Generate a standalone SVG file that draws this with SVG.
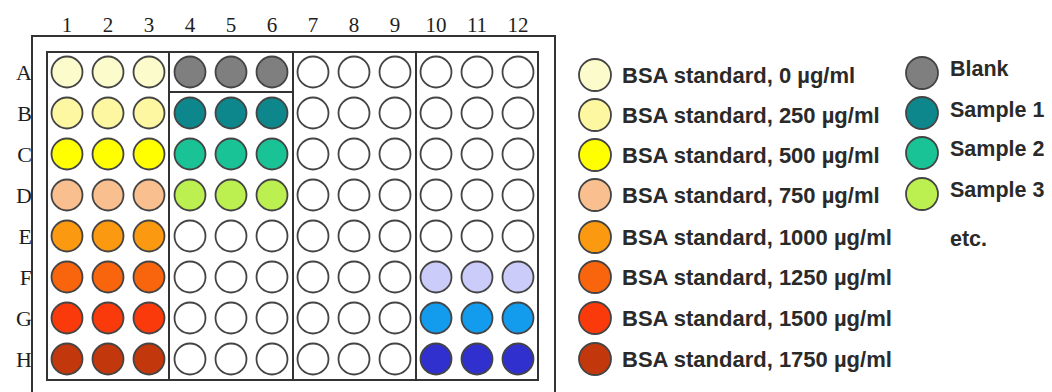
<svg xmlns="http://www.w3.org/2000/svg" width="1052" height="392" viewBox="0 0 1052 392">
<style>
.lbl{font-family:"Liberation Serif","Times New Roman",serif;font-size:21px;fill:#1e1e1e}
.rlbl{font-family:"Liberation Serif","Times New Roman",serif;font-size:22px;fill:#1e1e1e}
.leg{font-family:"Liberation Sans",Arial,sans-serif;font-weight:bold;font-size:22px;fill:#2a2a2a}
.leg2{font-family:"Liberation Sans",Arial,sans-serif;font-weight:bold;font-size:21.5px;fill:#2a2a2a}
.frame{fill:none;stroke:#333;stroke-width:2}
.w{stroke:#444;stroke-width:1.8}
.e{fill:#fff}
.s0{fill:#fbfbcc}
.s250{fill:#fcf7a0}
.s500{fill:#ffff00}
.s750{fill:#f9bf8f}
.s1000{fill:#fb9a10}
.s1250{fill:#f8650d}
.s1500{fill:#fb3a0c}
.s1750{fill:#c2380c}
.blank{fill:#7f7f7f}
.smp1{fill:#0d878c}
.smp2{fill:#19c396}
.smp3{fill:#bcf050}
.lav{fill:#ccccfa}
.sky{fill:#139bee}
.ind{fill:#3030cf}
</style>
<rect width="1052" height="392" fill="#fff"/>
<g id="plate">
<path class="frame" d="M32 400 V36 H555 V400"/>
<rect class="frame" x="47" y="52" width="491" height="328"/>
<path class="frame" d="M169 52 V380 M293 52 V380 M416 52 V380 M169 92 H293"/>
</g>
<g id="column-labels" class="lbl" text-anchor="middle">
<text x="67" y="32">1</text><text x="108" y="32">2</text><text x="149" y="32">3</text><text x="190" y="32">4</text><text x="231" y="32">5</text><text x="272" y="32">6</text><text x="313" y="32">7</text><text x="354" y="32">8</text><text x="395" y="32">9</text><text x="436" y="32">10</text><text x="477" y="32">11</text><text x="518" y="32">12</text>
</g>
<g id="row-labels" class="rlbl" text-anchor="end">
<text x="32" y="80">A</text><text x="32" y="121">B</text><text x="32" y="162">C</text><text x="32" y="203">D</text><text x="32" y="244">E</text><text x="32" y="285">F</text><text x="32" y="326">G</text><text x="32" y="367">H</text>
</g>
<g id="wells" class="w">
<g id="row-A"><circle class="s0" cx="67" cy="72" r="15.5"/><circle class="s0" cx="108" cy="72" r="15.5"/><circle class="s0" cx="149" cy="72" r="15.5"/><circle class="blank" cx="190" cy="72" r="15.5"/><circle class="blank" cx="231" cy="72" r="15.5"/><circle class="blank" cx="272" cy="72" r="15.5"/><circle class="e" cx="313" cy="72" r="15.5"/><circle class="e" cx="354" cy="72" r="15.5"/><circle class="e" cx="395" cy="72" r="15.5"/><circle class="e" cx="436" cy="72" r="15.5"/><circle class="e" cx="477" cy="72" r="15.5"/><circle class="e" cx="518" cy="72" r="15.5"/></g>
<g id="row-B"><circle class="s250" cx="67" cy="113" r="15.5"/><circle class="s250" cx="108" cy="113" r="15.5"/><circle class="s250" cx="149" cy="113" r="15.5"/><circle class="smp1" cx="190" cy="113" r="15.5"/><circle class="smp1" cx="231" cy="113" r="15.5"/><circle class="smp1" cx="272" cy="113" r="15.5"/><circle class="e" cx="313" cy="113" r="15.5"/><circle class="e" cx="354" cy="113" r="15.5"/><circle class="e" cx="395" cy="113" r="15.5"/><circle class="e" cx="436" cy="113" r="15.5"/><circle class="e" cx="477" cy="113" r="15.5"/><circle class="e" cx="518" cy="113" r="15.5"/></g>
<g id="row-C"><circle class="s500" cx="67" cy="154" r="15.5"/><circle class="s500" cx="108" cy="154" r="15.5"/><circle class="s500" cx="149" cy="154" r="15.5"/><circle class="smp2" cx="190" cy="154" r="15.5"/><circle class="smp2" cx="231" cy="154" r="15.5"/><circle class="smp2" cx="272" cy="154" r="15.5"/><circle class="e" cx="313" cy="154" r="15.5"/><circle class="e" cx="354" cy="154" r="15.5"/><circle class="e" cx="395" cy="154" r="15.5"/><circle class="e" cx="436" cy="154" r="15.5"/><circle class="e" cx="477" cy="154" r="15.5"/><circle class="e" cx="518" cy="154" r="15.5"/></g>
<g id="row-D"><circle class="s750" cx="67" cy="195" r="15.5"/><circle class="s750" cx="108" cy="195" r="15.5"/><circle class="s750" cx="149" cy="195" r="15.5"/><circle class="smp3" cx="190" cy="195" r="15.5"/><circle class="smp3" cx="231" cy="195" r="15.5"/><circle class="smp3" cx="272" cy="195" r="15.5"/><circle class="e" cx="313" cy="195" r="15.5"/><circle class="e" cx="354" cy="195" r="15.5"/><circle class="e" cx="395" cy="195" r="15.5"/><circle class="e" cx="436" cy="195" r="15.5"/><circle class="e" cx="477" cy="195" r="15.5"/><circle class="e" cx="518" cy="195" r="15.5"/></g>
<g id="row-E"><circle class="s1000" cx="67" cy="236" r="15.5"/><circle class="s1000" cx="108" cy="236" r="15.5"/><circle class="s1000" cx="149" cy="236" r="15.5"/><circle class="e" cx="190" cy="236" r="15.5"/><circle class="e" cx="231" cy="236" r="15.5"/><circle class="e" cx="272" cy="236" r="15.5"/><circle class="e" cx="313" cy="236" r="15.5"/><circle class="e" cx="354" cy="236" r="15.5"/><circle class="e" cx="395" cy="236" r="15.5"/><circle class="e" cx="436" cy="236" r="15.5"/><circle class="e" cx="477" cy="236" r="15.5"/><circle class="e" cx="518" cy="236" r="15.5"/></g>
<g id="row-F"><circle class="s1250" cx="67" cy="277" r="15.5"/><circle class="s1250" cx="108" cy="277" r="15.5"/><circle class="s1250" cx="149" cy="277" r="15.5"/><circle class="e" cx="190" cy="277" r="15.5"/><circle class="e" cx="231" cy="277" r="15.5"/><circle class="e" cx="272" cy="277" r="15.5"/><circle class="e" cx="313" cy="277" r="15.5"/><circle class="e" cx="354" cy="277" r="15.5"/><circle class="e" cx="395" cy="277" r="15.5"/><circle class="lav" cx="436" cy="277" r="15.5"/><circle class="lav" cx="477" cy="277" r="15.5"/><circle class="lav" cx="518" cy="277" r="15.5"/></g>
<g id="row-G"><circle class="s1500" cx="67" cy="318" r="15.5"/><circle class="s1500" cx="108" cy="318" r="15.5"/><circle class="s1500" cx="149" cy="318" r="15.5"/><circle class="e" cx="190" cy="318" r="15.5"/><circle class="e" cx="231" cy="318" r="15.5"/><circle class="e" cx="272" cy="318" r="15.5"/><circle class="e" cx="313" cy="318" r="15.5"/><circle class="e" cx="354" cy="318" r="15.5"/><circle class="e" cx="395" cy="318" r="15.5"/><circle class="sky" cx="436" cy="318" r="15.5"/><circle class="sky" cx="477" cy="318" r="15.5"/><circle class="sky" cx="518" cy="318" r="15.5"/></g>
<g id="row-H"><circle class="s1750" cx="67" cy="359" r="15.5"/><circle class="s1750" cx="108" cy="359" r="15.5"/><circle class="s1750" cx="149" cy="359" r="15.5"/><circle class="e" cx="190" cy="359" r="15.5"/><circle class="e" cx="231" cy="359" r="15.5"/><circle class="e" cx="272" cy="359" r="15.5"/><circle class="e" cx="313" cy="359" r="15.5"/><circle class="e" cx="354" cy="359" r="15.5"/><circle class="e" cx="395" cy="359" r="15.5"/><circle class="ind" cx="436" cy="359" r="15.5"/><circle class="ind" cx="477" cy="359" r="15.5"/><circle class="ind" cx="518" cy="359" r="15.5"/></g>
</g>
<g id="legend-standards">
<g id="leg-0"><circle class="w s0" cx="595" cy="75" r="16"/><text class="leg" x="622" y="83">BSA standard, 0 µg/ml</text></g>
<g id="leg-250"><circle class="w s250" cx="595" cy="115" r="16"/><text class="leg" x="622" y="123">BSA standard, 250 µg/ml</text></g>
<g id="leg-500"><circle class="w s500" cx="595" cy="155" r="16"/><text class="leg" x="622" y="163">BSA standard, 500 µg/ml</text></g>
<g id="leg-750"><circle class="w s750" cx="595" cy="195" r="16"/><text class="leg" x="622" y="203">BSA standard, 750 µg/ml</text></g>
<g id="leg-1000"><circle class="w s1000" cx="595" cy="237" r="16"/><text class="leg" x="622" y="245">BSA standard, 1000 µg/ml</text></g>
<g id="leg-1250"><circle class="w s1250" cx="595" cy="277" r="16"/><text class="leg" x="622" y="285">BSA standard, 1250 µg/ml</text></g>
<g id="leg-1500"><circle class="w s1500" cx="595" cy="318" r="16"/><text class="leg" x="622" y="326">BSA standard, 1500 µg/ml</text></g>
<g id="leg-1750"><circle class="w s1750" cx="595" cy="359" r="16"/><text class="leg" x="622" y="367">BSA standard, 1750 µg/ml</text></g>
</g>
<g id="legend-samples">
<g id="leg-blank"><circle class="w blank" cx="922" cy="73" r="16"/><text class="leg2" x="950" y="76">Blank</text></g>
<g id="leg-s1"><circle class="w smp1" cx="922" cy="113" r="16"/><text class="leg2" x="950" y="117">Sample 1</text></g>
<g id="leg-s2"><circle class="w smp2" cx="922" cy="153" r="16"/><text class="leg2" x="950" y="156">Sample 2</text></g>
<g id="leg-s3"><circle class="w smp3" cx="922" cy="194" r="16"/><text class="leg2" x="950" y="197">Sample 3</text></g>
<text class="leg2" x="950" y="246">etc.</text>
</g>
</svg>
